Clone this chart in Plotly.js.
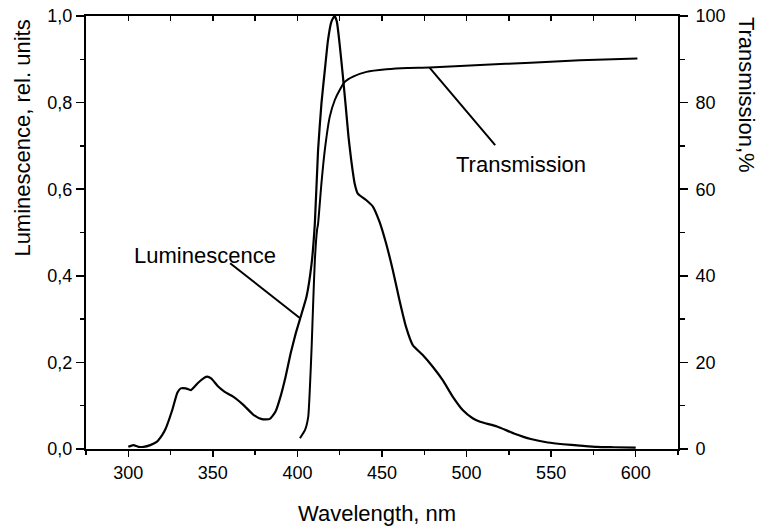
<!DOCTYPE html>
<html>
<head>
<meta charset="utf-8">
<script src="https://cdn.plot.ly/plotly-3.0.1.min.js"></script>
<style>html,body{margin:0;padding:0;background:#fff;}#chart{width:758px;height:529px;}</style>
</head>
<body>
<div id="chart"></div>
<script>
// Luminescence spectrum (relative units)
const lumWavelength = [300,303,306,309,313,317,320,322,326,329,331,334,337,341,344,346.5,349,353,357,362,368,374,379,383.5,387,390,393,396,399,401.5,405.4,408.4,410.3,412.2,414.2,416.2,418.1,420.1,422,423.3,424.9,426.9,428.4,430.2,431.8,433.8,435.7,440.6,444.6,448.5,452.4,456.4,460.3,464.2,468.2,474.1,480,485.9,491.8,497.7,503.6,508,518,528,538,548,557,567,577,587,600];
const lumValue = [0.005,0.009,0.005,0.005,0.009,0.017,0.032,0.046,0.09,0.13,0.140,0.140,0.136,0.152,0.162,0.167,0.163,0.145,0.132,0.121,0.102,0.079,0.069,0.069,0.086,0.121,0.167,0.221,0.267,0.300,0.352,0.429,0.521,0.690,0.798,0.875,0.945,0.987,1.0,0.987,0.937,0.860,0.798,0.721,0.667,0.614,0.590,0.575,0.560,0.525,0.475,0.413,0.344,0.282,0.240,0.217,0.190,0.159,0.121,0.090,0.071,0.063,0.052,0.036,0.023,0.015,0.011,0.008,0.005,0.004,0.003];

// Transmission (%)
const trWavelength = [401.5,404.5,406.4,407.4,408.4,409.3,410.3,411.6,412.2,414.2,416.2,419.1,422.1,425,428,432.9,440.8,452.6,465,478,508,538,567,601];
const trValue = [2.5,4.4,7.5,14.4,23.6,33.6,43.6,50.6,52,61.4,69.1,76.7,80.6,82.9,84.8,86.0,87.1,87.7,88.0,88.1,88.7,89.2,89.8,90.2];

const xTickVals = [300,350,400,450,500,550,600];
const leftTickVals = [0,0.2,0.4,0.6,0.8,1.0];
const rightTickVals = [0,20,40,60,80,100];

const labels = {
  x: 'Wavelength, nm',
  yLeft: 'Luminescence, rel. units',
  yRight: 'Transmission,%',
  lum: 'Luminescence',
  tr: 'Transmission'
};

const F = 'Liberation Sans, Arial, sans-serif';
const tickFont = {family: F, size: 18, color: '#000'};
const titleFont = {family: F, size: 22, color: '#000'};

const traces = [
  {x: lumWavelength, y: lumValue, type: 'scatter', mode: 'lines', line: {color: '#000', width: 2.2, shape: 'spline', smoothing: 0.5}, xaxis: 'x', yaxis: 'y', hoverinfo: 'skip'},
  {x: trWavelength, y: trValue, type: 'scatter', mode: 'lines', line: {color: '#000', width: 2, shape: 'spline', smoothing: 0.5}, xaxis: 'x2', yaxis: 'y2', hoverinfo: 'skip'}
];

const layout = {
  width: 758, height: 529,
  margin: {l: 86, r: 80, t: 16, b: 80},
  paper_bgcolor: '#fff', plot_bgcolor: '#fff',
  showlegend: false,
  separators: ',.',
  xaxis: {
    range: [275, 625], tickvals: xTickVals, ticks: 'outside', ticklen: 6, tickwidth: 1.5,
    tickcolor: '#000', showline: true, linecolor: '#000', linewidth: 2, showgrid: false, zeroline: false,
    tickfont: tickFont, minor: {dtick: 25, tick0: 275, ticks: 'outside', ticklen: 4, tickwidth: 1.5, tickcolor: '#000', showgrid: false}
  },
  xaxis2: {
    range: [275, 625], overlaying: 'x', side: 'top', anchor: 'y2', tickvals: xTickVals.concat([325,375,425,475,525,575]),
    ticks: 'inside', ticklen: 5, tickwidth: 1.5, tickcolor: '#000', showticklabels: false,
    showline: true, linecolor: '#000', linewidth: 2, showgrid: false, zeroline: false
  },
  yaxis: {
    range: [0, 1], tickvals: leftTickVals, tickformat: '.1f', ticks: 'outside', ticklen: 8, tickwidth: 1.5,
    tickcolor: '#000', showline: true, linecolor: '#000', linewidth: 2, showgrid: false, zeroline: false,
    tickfont: tickFont, minor: {dtick: 0.1, tick0: 0, ticks: 'outside', ticklen: 4, tickwidth: 1.5, tickcolor: '#000', showgrid: false}
  },
  yaxis2: {
    range: [0, 100], overlaying: 'y', side: 'right', anchor: 'x2', tickvals: rightTickVals, ticks: 'outside', ticklen: 8, tickwidth: 1.5,
    tickcolor: '#000', showline: true, linecolor: '#000', linewidth: 2, showgrid: false, zeroline: false,
    tickfont: tickFont, ticklabelstandoff: 4,
    minor: {dtick: 10, tick0: 0, ticks: 'outside', ticklen: 5, tickwidth: 1.5, tickcolor: '#000', showgrid: false}
  },
  shapes: [
    {type: 'line', xref: 'x', yref: 'y', x0: 360.2, y0: 0.429, x1: 401.6, y1: 0.302, line: {color: '#000', width: 2}},
    {type: 'line', xref: 'x', yref: 'y', x0: 478.1, y0: 0.881, x1: 516.9, y1: 0.702, line: {color: '#000', width: 2}}
  ],
  annotations: [
    {text: labels.x, xref: 'paper', yref: 'paper', x: 0.4918, y: -0.148, xanchor: 'center', yanchor: 'middle', showarrow: false, font: titleFont},
    {text: labels.yLeft, xref: 'paper', yref: 'paper', x: -0.108, y: 0.717, xanchor: 'center', yanchor: 'middle', textangle: -90, showarrow: false, font: titleFont},
    {text: labels.yRight, xref: 'paper', yref: 'paper', x: 1.115, y: 0.8176, xanchor: 'center', yanchor: 'middle', textangle: 90, showarrow: false, font: titleFont},
    {text: labels.lum, xref: 'x', yref: 'y', x: 345.1, y: 0.446, xanchor: 'center', yanchor: 'middle', showarrow: false, font: titleFont},
    {text: labels.tr, xref: 'x', yref: 'y', x: 532.2, y: 0.656, xanchor: 'center', yanchor: 'middle', showarrow: false, font: titleFont}
  ]
};

Plotly.newPlot('chart', traces, layout, {staticPlot: true, displayModeBar: false});
</script>
</body>
</html>
